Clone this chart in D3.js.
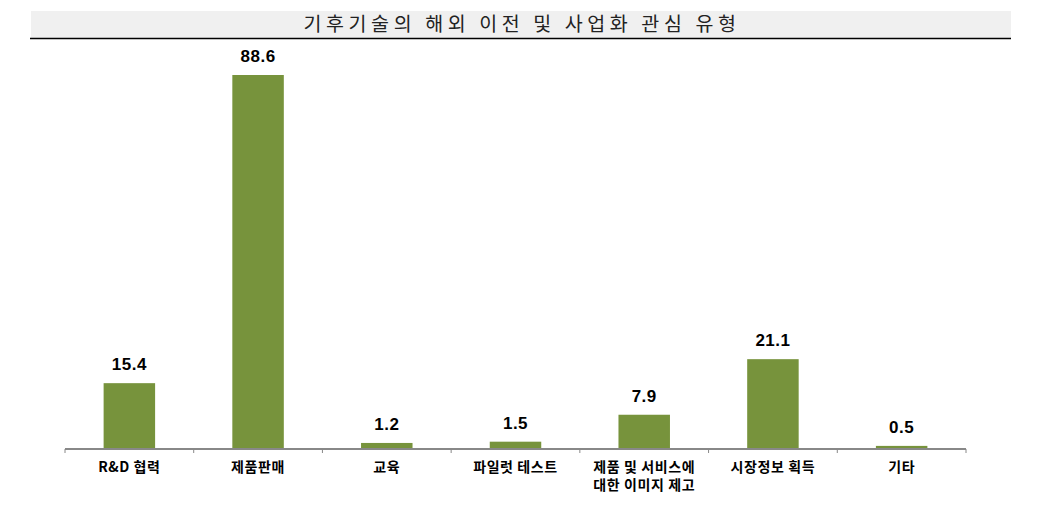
<!DOCTYPE html>
<html>
<head>
<meta charset="utf-8">
<script src="https://d3js.org/d3.v7.min.js"></script>
<style>
  body { margin: 0; background: #fff; }
</style>
</head>
<body>
<script>
// data
const chartTitle = "기후기술의 해외 이전 및 사업화 관심 유형";
const categories = ["R&D 협력", "제품판매", "교육", "파일럿 테스트", "제품 및 서비스에\n대한 이미지 제고", "시장정보 획득", "기타"];
const values = [15.4, 88.6, 1.2, 1.5, 7.9, 21.1, 0.5];

const width = 1038, height = 515;
const plot = {left: 65, right: 966, top: 75, bottom: 448};

const svg = d3.select("body").append("svg")
  .attr("width", width)
  .attr("height", height);

// title band
svg.append("rect")
  .attr("x", 31).attr("y", 11)
  .attr("width", 980).attr("height", 27)
  .attr("fill", "#f0f0f0");
svg.append("line")
  .attr("x1", 30).attr("x2", 1011)
  .attr("y1", 38.5).attr("y2", 38.5)
  .attr("stroke", "#000").attr("stroke-width", 1.5);
svg.append("text")
  .attr("x", 522).attr("y", 31)
  .attr("text-anchor", "middle")
  .attr("font-family", "'Noto Sans CJK KR', sans-serif")
  .attr("font-size", 19.5)
  .attr("letter-spacing", "4.6px")
  .attr("fill", "#222")
  .text(chartTitle);

const x = d3.scaleBand()
  .domain(categories)
  .range([plot.left, plot.right])
  .paddingInner(0.6)
  .paddingOuter(0.3);

const y = d3.scaleLinear()
  .domain([0, 88.6])
  .range([plot.bottom, plot.top]);

// bars
svg.append("g").selectAll("rect")
  .data(values)
  .join("rect")
    .attr("x", (d, i) => x(categories[i]))
    .attr("y", d => y(d))
    .attr("width", x.bandwidth())
    .attr("height", d => y(0) - y(d))
    .attr("fill", "#77933c");

// value labels
svg.append("g").selectAll("text")
  .data(values)
  .join("text")
    .attr("x", (d, i) => x(categories[i]) + x.bandwidth() / 2)
    .attr("y", d => y(d) - 13)
    .attr("text-anchor", "middle")
    .attr("font-family", "'Liberation Sans', Arial, sans-serif")
    .attr("font-weight", "bold")
    .attr("font-size", 17)
    .attr("letter-spacing", "0.5px")
    .attr("fill", "#000")
    .text(d => d.toFixed(1));

// axis
const step = (plot.right - plot.left) / categories.length;
const axis = svg.append("g");
axis.append("line")
  .attr("x1", plot.left).attr("x2", plot.right)
  .attr("y1", plot.bottom + 1).attr("y2", plot.bottom + 1)
  .attr("stroke", "#888").attr("stroke-width", 2);
axis.selectAll("line.tick")
  .data(d3.range(categories.length + 1))
  .join("line")
    .attr("class", "tick")
    .attr("x1", i => plot.left + i * step)
    .attr("x2", i => plot.left + i * step)
    .attr("y1", plot.bottom + 1)
    .attr("y2", plot.bottom + 5)
    .attr("stroke", "#888").attr("stroke-width", 1);

// category labels
const lab = svg.append("g").selectAll("text")
  .data(categories)
  .join("text")
    .attr("text-anchor", "middle")
    .attr("font-family", "'Noto Sans CJK KR', sans-serif")
    .attr("font-weight", "bold")
    .attr("font-size", 14)
    .attr("letter-spacing", "0.6px")
    .attr("fill", "#000");
lab.each(function(d) {
  const cx = x(d) + x.bandwidth() / 2;
  const lines = d.split("\n");
  d3.select(this).selectAll("tspan")
    .data(lines)
    .join("tspan")
      .attr("x", cx)
      .attr("y", (l, j) => 472 + j * 18)
      .text(l => l);
});
</script>
</body>
</html>
